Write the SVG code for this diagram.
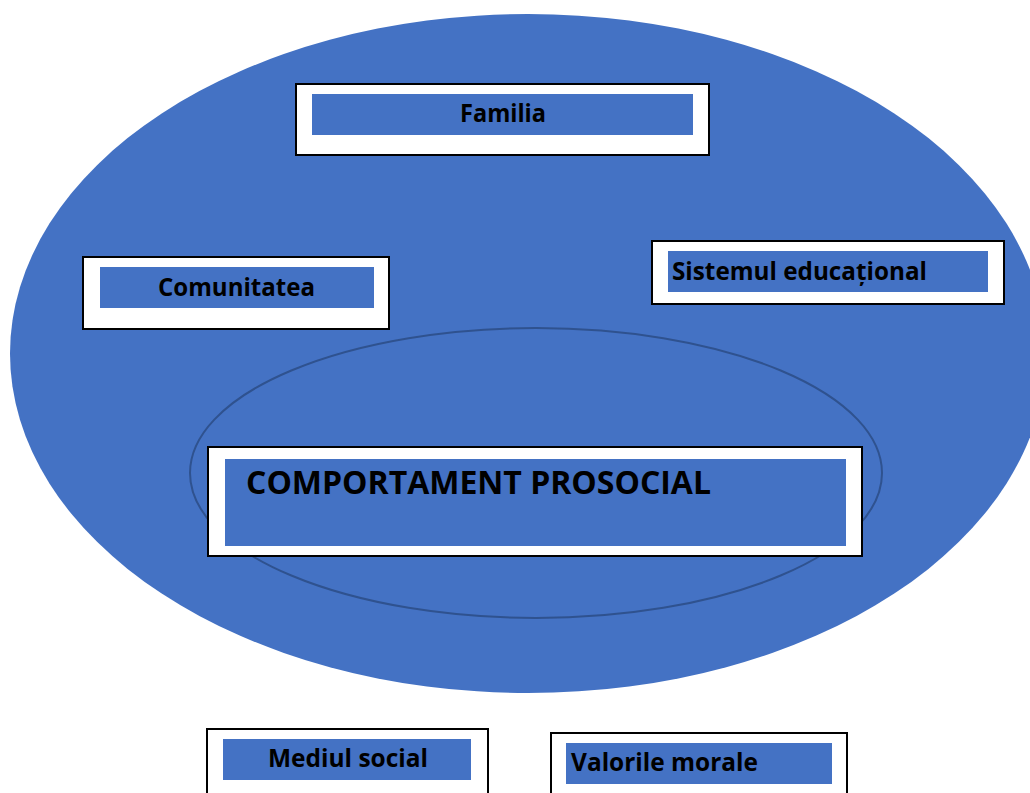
<svg xmlns="http://www.w3.org/2000/svg" width="1030" height="793" viewBox="0 0 1030 793">
<style>
.frame{fill:#fff;stroke:#000;stroke-width:2}
.inner{fill:#4472C4}
.lbl{font-family:"Open Sans","Liberation Sans",sans-serif;font-weight:bold;fill:#000}
</style>
<rect width="1030" height="793" fill="#fff"/>
<g id="outer-ellipse"><ellipse cx="528" cy="353.5" rx="518" ry="339.5" fill="#4472C4"/></g>
<g id="inner-ellipse"><ellipse cx="536" cy="473" rx="346" ry="145" fill="none" stroke="#2F528F" stroke-width="2"/></g>
<g id="familia">
<rect class="frame" x="296" y="84" width="413" height="71"/>
<rect class="inner" x="312" y="94" width="381" height="41"/>
<text class="lbl" x="460" y="122" font-size="25" textLength="86" lengthAdjust="spacingAndGlyphs">Familia</text>
</g>
<g id="comunitatea">
<rect class="frame" x="83" y="257" width="306" height="72"/>
<rect class="inner" x="100" y="267" width="274" height="41"/>
<text class="lbl" x="158" y="296" font-size="25" textLength="157" lengthAdjust="spacingAndGlyphs">Comunitatea</text>
</g>
<g id="sistemul">
<rect class="frame" x="652" y="241" width="352" height="63"/>
<rect class="inner" x="668" y="251" width="320" height="41"/>
<text class="lbl" x="672" y="280" font-size="25" textLength="255" lengthAdjust="spacingAndGlyphs">Sistemul educațional</text>
</g>
<g id="comportament">
<rect class="frame" x="208" y="447" width="654" height="109"/>
<rect class="inner" x="225" y="459" width="621" height="87"/>
<text class="lbl" x="246" y="494" font-size="32" textLength="465" lengthAdjust="spacingAndGlyphs">COMPORTAMENT PROSOCIAL</text>
</g>
<g id="mediul">
<rect class="frame" x="207" y="729" width="281" height="70"/>
<rect class="inner" x="223" y="739" width="248" height="41"/>
<text class="lbl" x="268" y="767" font-size="25" textLength="160" lengthAdjust="spacingAndGlyphs">Mediul social</text>
</g>
<g id="valorile">
<rect class="frame" x="551" y="733" width="296" height="70"/>
<rect class="inner" x="566" y="743" width="266" height="41"/>
<text class="lbl" x="571" y="771" font-size="25" textLength="187" lengthAdjust="spacingAndGlyphs">Valorile morale</text>
</g>
<g id="connectors"></g>
</svg>
